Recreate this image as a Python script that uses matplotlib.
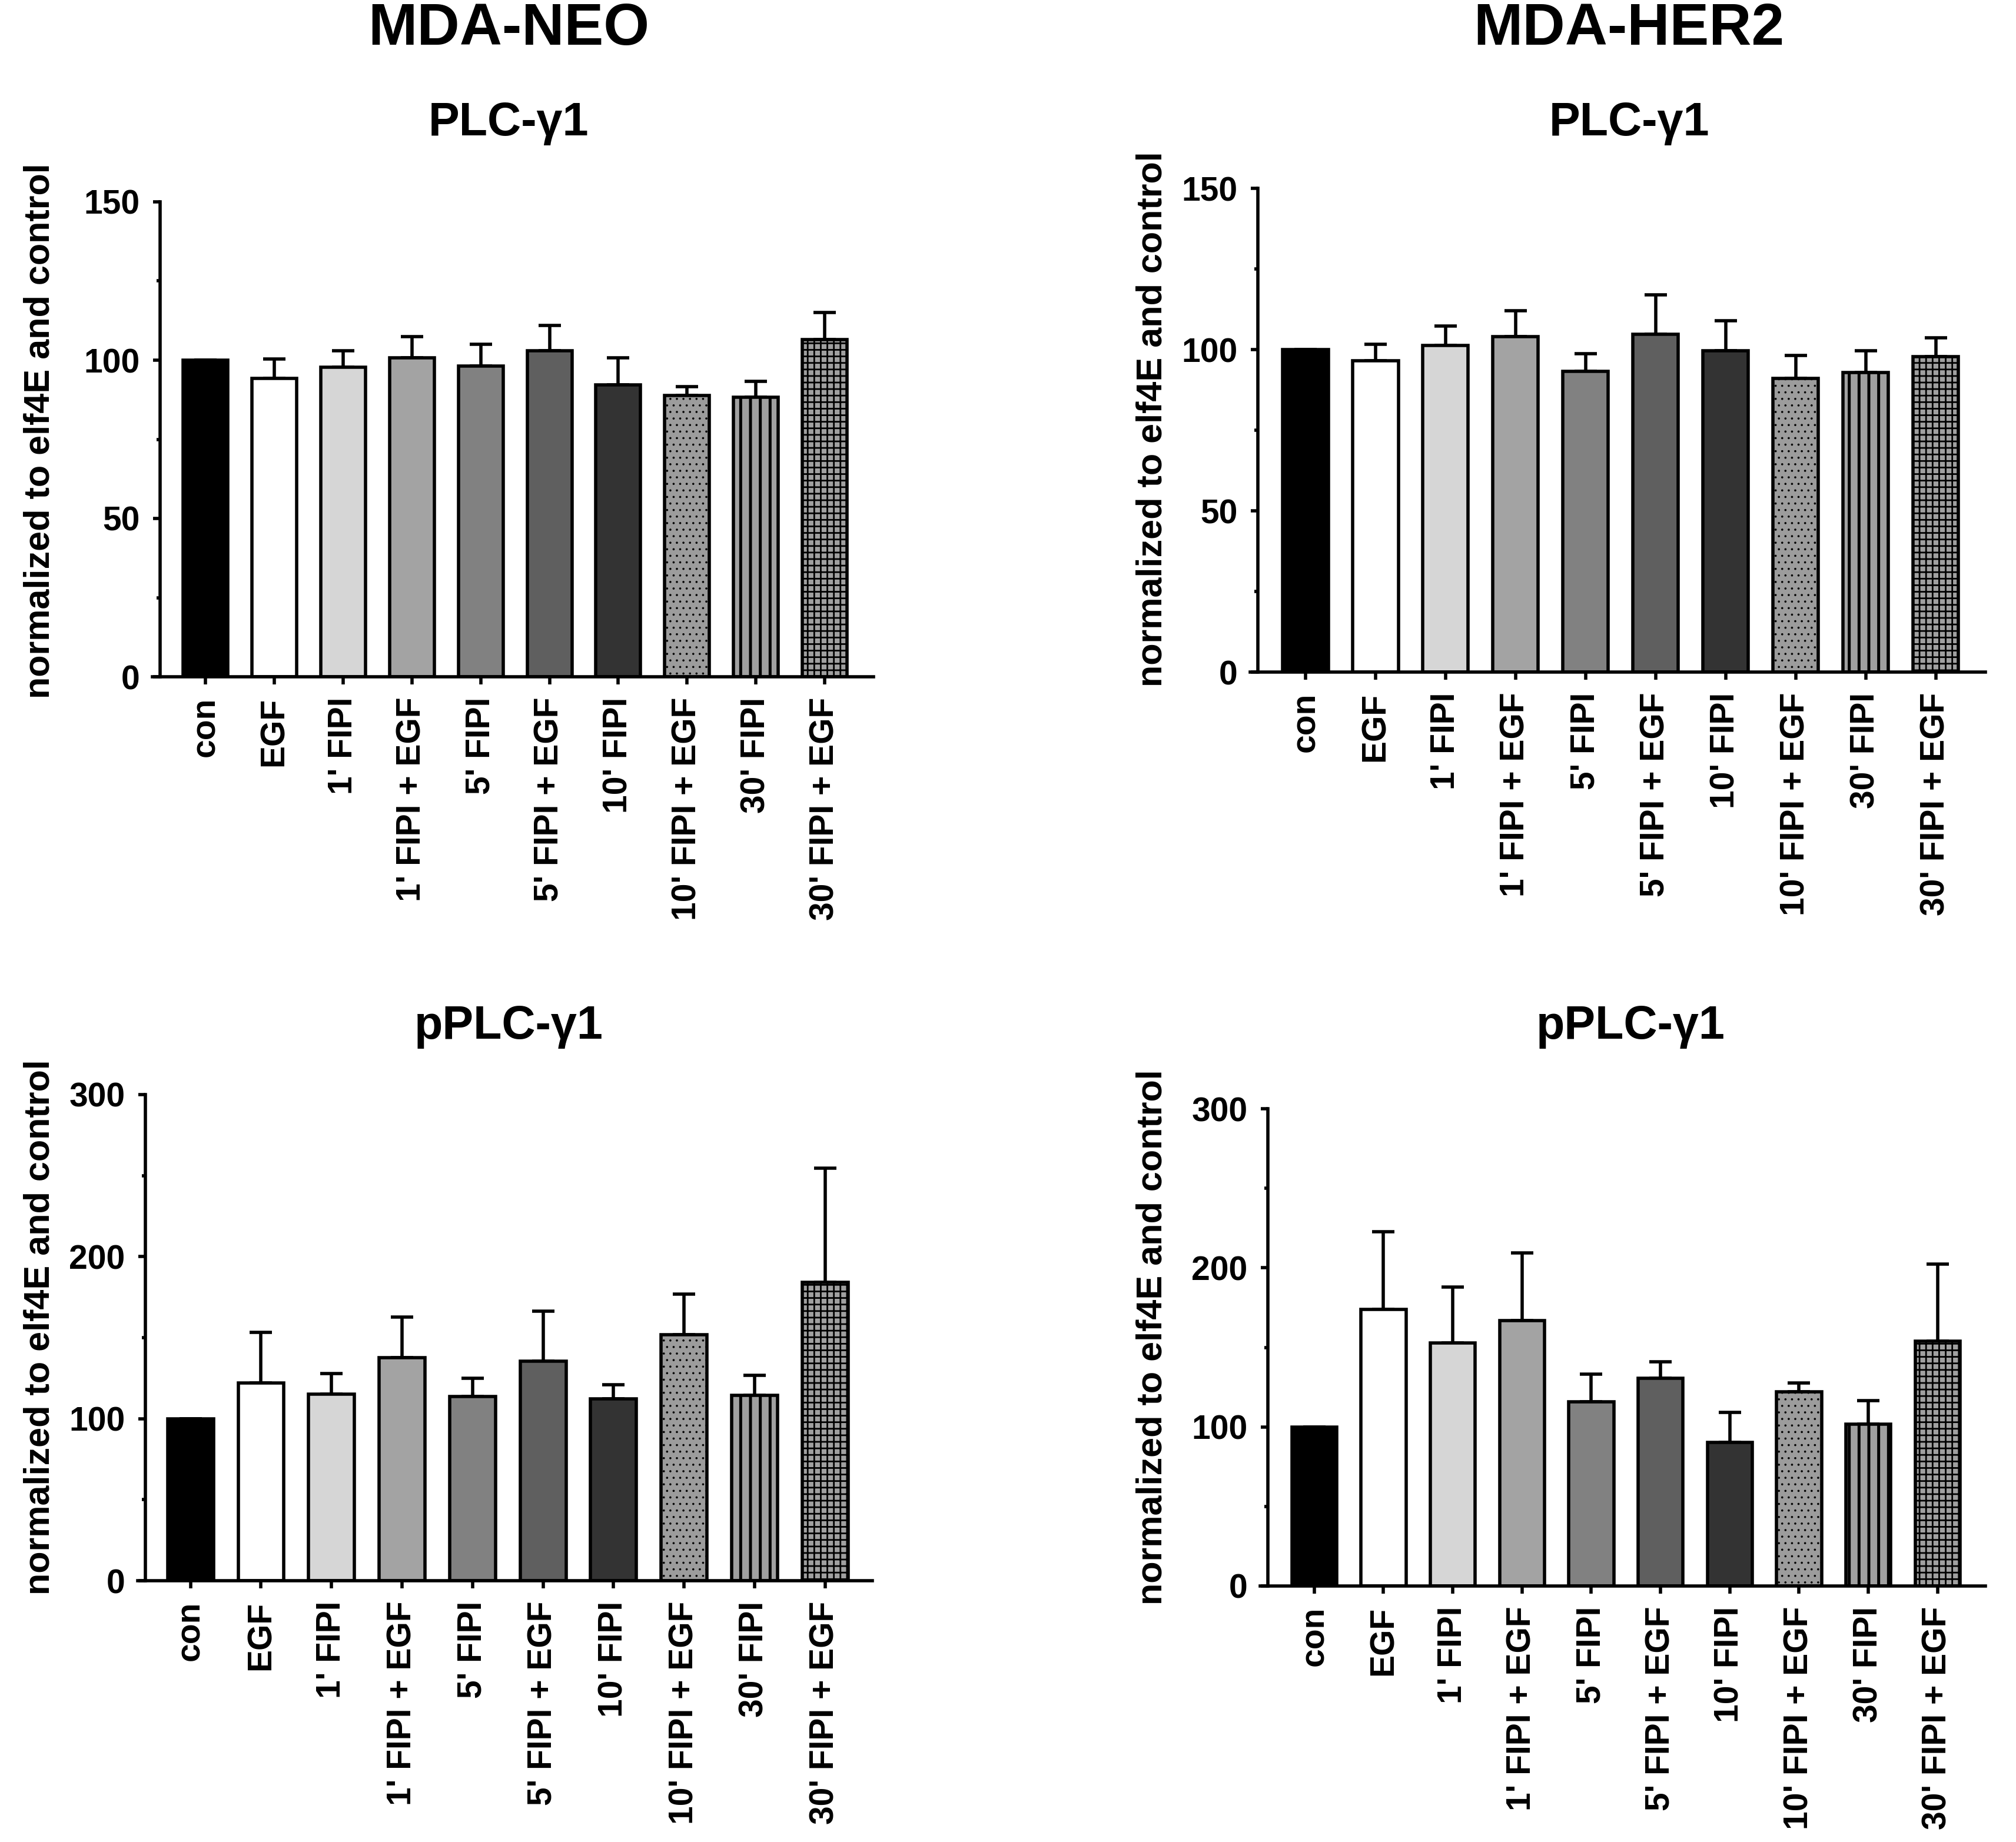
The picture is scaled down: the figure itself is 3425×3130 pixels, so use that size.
import matplotlib
matplotlib.use("Agg")
import matplotlib.pyplot as plt
import numpy as np

# ---------------- data ----------------
categories = ["con", "EGF", "1' FIPI", "1' FIPI + EGF", "5' FIPI",
              "5' FIPI + EGF", "10' FIPI", "10' FIPI + EGF", "30' FIPI",
              "30' FIPI + EGF"]

neo_plc_mean = [100, 94.3, 97.7, 100.8, 98.1, 103.0, 92.2, 88.8, 88.2, 106.5]
neo_plc_err = [0, 6.1, 5.2, 6.6, 6.9, 7.9, 8.6, 2.8, 5.1, 8.5]

her2_plc_mean = [100, 96.6, 101.3, 104.1, 93.3, 104.7, 99.6, 91.0, 92.9, 97.9]
her2_plc_err = [0, 5.1, 6.0, 7.9, 5.4, 12.2, 9.4, 7.1, 6.7, 5.8]

neo_pplc_mean = [100, 122.0, 115.0, 137.6, 113.6, 135.4, 112.1, 151.8, 114.3, 184.2]
neo_pplc_err = [0, 31.3, 13.0, 25.1, 11.3, 31.0, 8.8, 25.1, 12.4, 70.3]

her2_pplc_mean = [100, 173.7, 152.6, 167.0, 115.6, 130.7, 90.4, 122.2, 101.9, 154.0]
her2_pplc_err = [0, 48.9, 35.2, 42.3, 17.4, 10.3, 18.9, 5.6, 14.8, 48.2]

column_titles = ["MDA-NEO", "MDA-HER2"]
panel_titles = ["PLC-\u03b31", "PLC-\u03b31", "pPLC-\u03b31", "pPLC-\u03b31"]
ylabel_text = "normalized to elf4E and control"

# ---------------- style ----------------
fills = ['#000000', '#ffffff', '#d6d6d6', '#a3a3a3', '#818181',
         '#5f5f5f', '#333333', '#9c9c9c', '#a0a0a0', '#a0a0a0']
hatches = [None, None, None, None, None, None, None, '...', '||', '+++']
hatch_lw = [None] * 7 + [0.5, 1.8, 1.0]

plt.rcParams['font.family'] = ['Liberation Sans', 'DejaVu Sans']
plt.rcParams['font.weight'] = 'bold'
plt.rcParams['hatch.linewidth'] = 1.2

W, H = 3425, 3130
DPI = 200
fig = plt.figure(figsize=(W / DPI, H / DPI), dpi=DPI)
fig.patch.set_facecolor('white')


def rect(left, top, right, bottom):
    return [left / W, 1 - bottom / H, (right - left) / W, (bottom - top) / H]


panels = [
    dict(r=(272, 343, 1484, 1150), xl=(-0.66, 9.71), ymax=150, major=50,
         mean=neo_plc_mean, err=neo_plc_err, title=panel_titles[0],
         tx=864, tb=230, lx=68, ly=732),
    dict(r=(2137, 320, 3373, 1142), xl=(-0.68, 9.71), ymax=150, major=50,
         mean=her2_plc_mean, err=her2_plc_err, title=panel_titles[1],
         tx=2768, tb=230, lx=1958, ly=712),
    dict(r=(247, 1860, 1482, 2686), xl=(-0.64, 9.67), ymax=300, major=100,
         mean=neo_pplc_mean, err=neo_pplc_err, title=panel_titles[2],
         tx=864, tb=1765, lx=68, ly=2255),
    dict(r=(2154, 1884, 3373, 2695), xl=(-0.67, 9.69), ymax=300, major=100,
         mean=her2_pplc_mean, err=her2_pplc_err, title=panel_titles[3],
         tx=2770, tb=1765, lx=1958, ly=2272),
]

x = np.arange(len(categories))

for p in panels:
    ax = fig.add_axes(rect(*p['r']))
    ax.set_xlim(*p['xl'])
    ax.set_ylim(0, p['ymax'])
    bars = ax.bar(x, p['mean'], width=0.65, color=fills, edgecolor='black',
                  linewidth=2.0, zorder=2)
    for b, h, lw in zip(bars, hatches, hatch_lw):
        if h:
            b.set_hatch(h)
            if lw is not None and hasattr(b, 'set_hatch_linewidth'):
                b.set_hatch_linewidth(lw)
    lower = np.zeros(len(categories))
    ax.errorbar(x, p['mean'], yerr=[lower, p['err']], fmt='none',
                ecolor='black', elinewidth=2.0, capsize=7, capthick=2.0,
                zorder=1.5)
    for s in ['top', 'right']:
        ax.spines[s].set_visible(False)
    for s in ['left', 'bottom']:
        ax.spines[s].set_linewidth(2.0)
    ax.spines['bottom'].set_bounds(p['xl'][0] - 0.11, p['xl'][1])
    ax.set_yticks(np.arange(0, p['ymax'] + 1, p['major']))
    ax.set_yticks(np.arange(p['major'] / 2, p['ymax'], p['major']), minor=True)
    ax.set_xticks(x)
    ax.set_xticklabels(categories, rotation=90, ha='center', va='top')
    ax.tick_params(axis='both', which='major', length=4.5, width=2.0,
                   labelsize=20.5, pad=8)
    ax.tick_params(axis='y', which='minor', length=2.2, width=2.0)
    for lab in ax.get_xticklabels() + ax.get_yticklabels():
        lab.set_fontweight('bold')
    fig.text(p['tx'] / W, 1 - p['tb'] / H, p['title'], ha='center',
             va='baseline', fontsize=28.5, fontweight='bold')
    fig.text(p['lx'] / W, 1 - p['ly'] / H, ylabel_text, rotation=90,
             ha='center', va='center', fontsize=22, fontweight='bold')

fig.text(864 / W, 1 - 76 / H, column_titles[0], ha='center', va='baseline',
         fontsize=36, fontweight='bold')
fig.text(2767 / W, 1 - 76 / H, column_titles[1], ha='center', va='baseline',
         fontsize=36, fontweight='bold')

fig.savefig('out.png', dpi=DPI, facecolor='white')
